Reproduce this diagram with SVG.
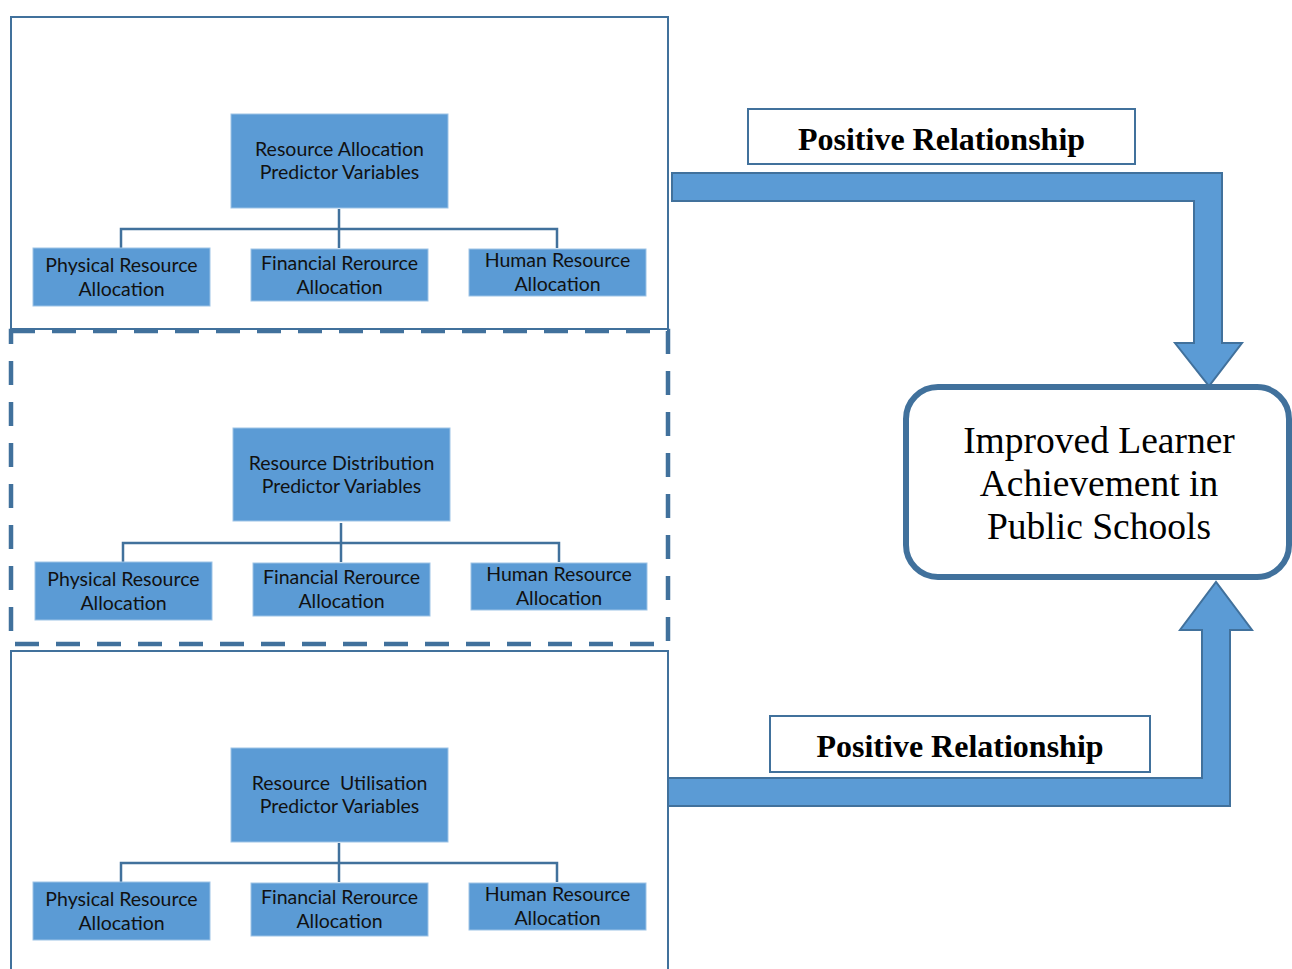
<svg xmlns="http://www.w3.org/2000/svg" width="1292" height="969" viewBox="0 0 1292 969">
<style>
.frame{fill:none;stroke:#41719c;stroke-width:2}
.dash{fill:none;stroke:#41719c;stroke-width:4.5;stroke-dasharray:24 17}
.node{fill:#5b9bd5;stroke:#9dc3e6;stroke-width:1}
.nt{font-family:Lato,"Open Sans",sans-serif;font-size:19.5px;fill:#111;text-anchor:middle}
.conn{fill:none;stroke:#41719c;stroke-width:2.5}
.arrow{fill:#5b9bd5;stroke:#41719c;stroke-width:2;stroke-linejoin:miter}
.lbl{fill:#fff;stroke:#41719c;stroke-width:2}
.lt{font-family:"Liberation Serif",serif;font-weight:bold;font-size:32px;fill:#000;text-anchor:middle}
.big{font-family:"Liberation Serif",serif;font-size:37.5px;fill:#000;text-anchor:middle}
</style>
<rect width="1292" height="969" fill="#fff"/>
<g id="frames">
<rect class="frame" x="11" y="17" width="657" height="312"/>
<rect class="dash" x="11" y="331" width="657" height="313"/>
<path class="frame" d="M11 975 V651 H668 V975"/>
</g>
<g id="connectors">
<path class="conn" d="M339 209 V248 M121 248 V229 H557 V248"/>
<path class="conn" d="M341 523 V562 M123 562 V543 H559 V562"/>
<path class="conn" d="M339 843 V882 M121 882 V863 H557 V882"/>
<path class="arrow" d="M672 173 H1222 V343 H1242 L1209 386 L1175 343 H1194 V201 H672 Z"/>
<path class="arrow" d="M668 778 H1202 V630 H1180 L1216 582 L1252 630 H1230 V806 H668 Z"/>
</g>
<g id="alloc-root"><rect class="node" x="231" y="114" width="217" height="94"/><text class="nt" x="339.5" y="156">Resource Allocation</text><text class="nt" x="339.5" y="179">Predictor Variables</text></g>
<g id="alloc-phys"><rect class="node" x="33" y="248" width="177" height="58"/><text class="nt" x="121.5" y="272">Physical Resource</text><text class="nt" x="121.5" y="296">Allocation</text></g>
<g id="alloc-fin"><rect class="node" x="251" y="249" width="177" height="52"/><text class="nt" x="339.5" y="270">Financial Rerource</text><text class="nt" x="339.5" y="294">Allocation</text></g>
<g id="alloc-hum"><rect class="node" x="469" y="249" width="177" height="47"/><text class="nt" x="557.5" y="267">Human Resource</text><text class="nt" x="557.5" y="291">Allocation</text></g>
<g id="dist-root"><rect class="node" x="233" y="428" width="217" height="93"/><text class="nt" x="341.5" y="470">Resource Distribution</text><text class="nt" x="341.5" y="493">Predictor Variables</text></g>
<g id="dist-phys"><rect class="node" x="35" y="562" width="177" height="58"/><text class="nt" x="123.5" y="586">Physical Resource</text><text class="nt" x="123.5" y="610">Allocation</text></g>
<g id="dist-fin"><rect class="node" x="253" y="563" width="177" height="53"/><text class="nt" x="341.5" y="584">Financial Rerource</text><text class="nt" x="341.5" y="608">Allocation</text></g>
<g id="dist-hum"><rect class="node" x="471" y="563" width="176" height="47"/><text class="nt" x="559" y="581">Human Resource</text><text class="nt" x="559" y="605">Allocation</text></g>
<g id="util-root"><rect class="node" x="231" y="748" width="217" height="94"/><text class="nt" x="339.5" y="790" xml:space="preserve">Resource  Utilisation</text><text class="nt" x="339.5" y="813">Predictor Variables</text></g>
<g id="util-phys"><rect class="node" x="33" y="882" width="177" height="58"/><text class="nt" x="121.5" y="906">Physical Resource</text><text class="nt" x="121.5" y="930">Allocation</text></g>
<g id="util-fin"><rect class="node" x="251" y="883" width="177" height="53"/><text class="nt" x="339.5" y="904">Financial Rerource</text><text class="nt" x="339.5" y="928">Allocation</text></g>
<g id="util-hum"><rect class="node" x="469" y="883" width="177" height="47"/><text class="nt" x="557.5" y="901">Human Resource</text><text class="nt" x="557.5" y="925">Allocation</text></g>
<g id="label-top"><rect class="lbl" x="748" y="109" width="387" height="55"/><text class="lt" x="941.5" y="150">Positive Relationship</text></g>
<g id="label-bottom"><rect class="lbl" x="770" y="716" width="380" height="56"/><text class="lt" x="960" y="757">Positive Relationship</text></g>
<g id="outcome"><rect x="906" y="387" width="383" height="190" rx="32" ry="32" fill="#fff" stroke="#41719c" stroke-width="6"/><text class="big" x="1099" y="453">Improved Learner</text><text class="big" x="1099" y="496">Achievement in</text><text class="big" x="1099" y="539">Public Schools</text></g>
</svg>
